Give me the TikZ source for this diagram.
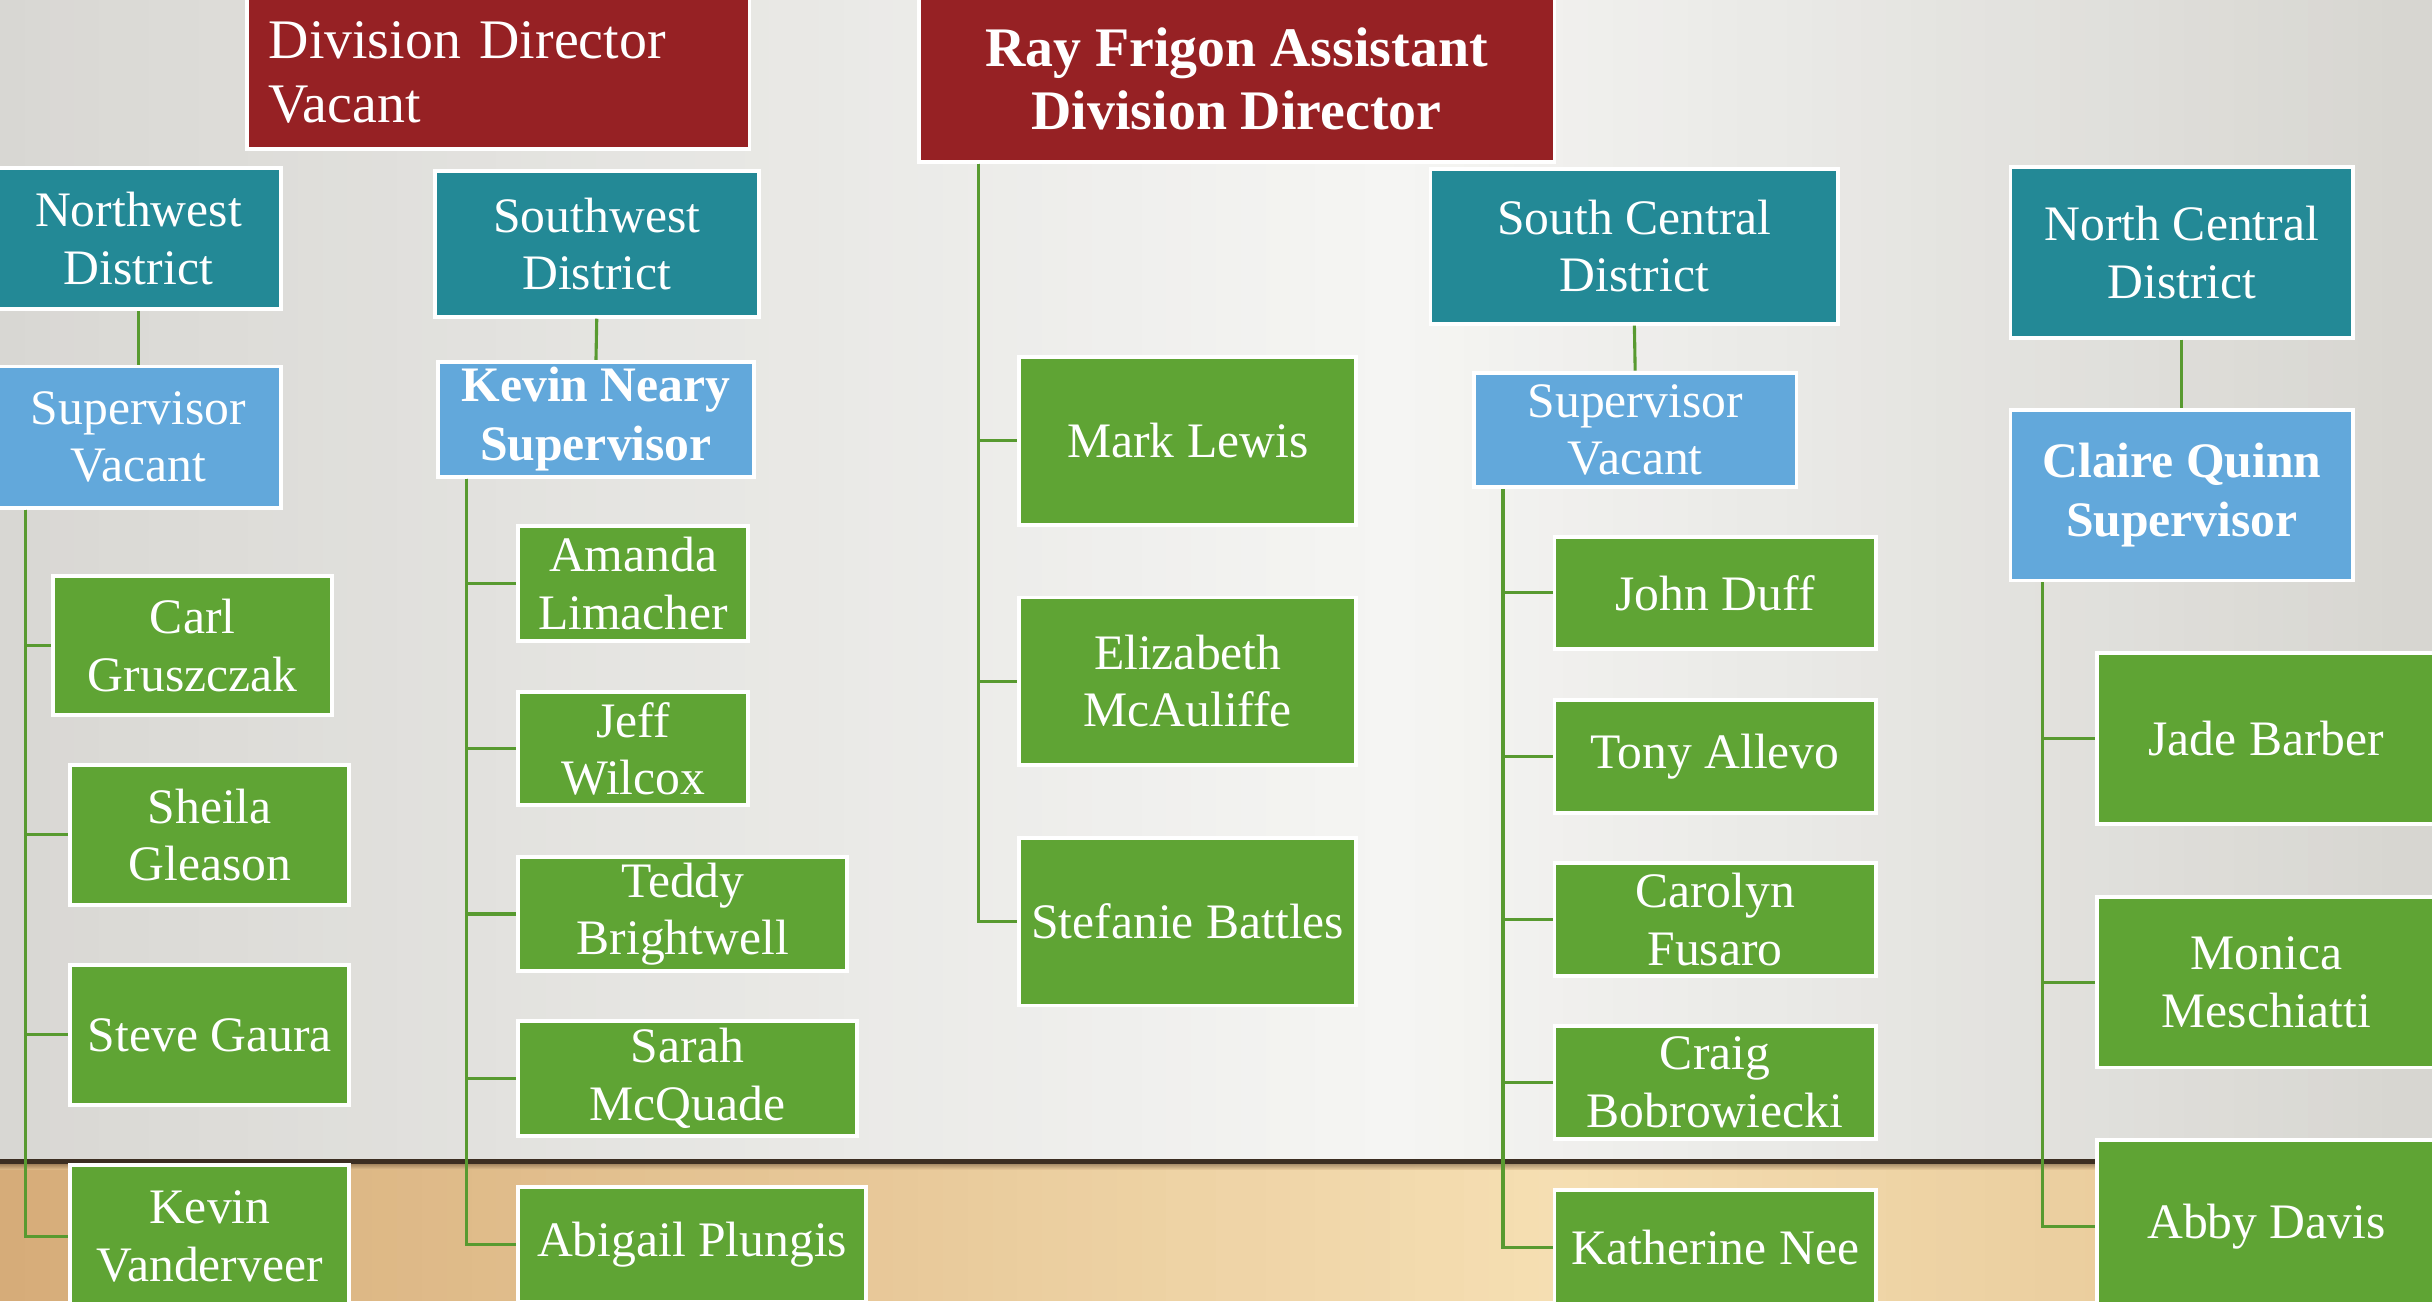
\documentclass[tikz,border=0pt]{standalone}
\usepackage{fontspec}
\setmainfont{Liberation Serif}
\usetikzlibrary{calc}
\definecolor{cred}{RGB}{150,33,36}
\definecolor{cteal}{RGB}{35,137,150}
\definecolor{cblue}{RGB}{98,168,219}
\definecolor{cgreen}{RGB}{95,164,52}
\definecolor{cline}{RGB}{88,154,48}
\definecolor{wallL}{RGB}{216,215,211}
\definecolor{wallM}{RGB}{245,245,243}
\definecolor{wallR}{RGB}{214,213,208}
\definecolor{floorL}{RGB}{214,172,120}
\definecolor{floorM}{RGB}{245,222,178}
\definecolor{floorR}{RGB}{228,196,146}
\definecolor{edge}{RGB}{60,46,34}
\newcommand\bigfontx{\fontsize{36}{41}\selectfont}
\newcommand\cardfont{\fontsize{32}{37}\selectfont}
\newcommand\cardbold{\fontsize{32}{38}\selectfont\bfseries}
\tikzset{
  card/.style={draw=white, line width=2.5pt, text=white, inner sep=0pt, align=center, anchor=north west},
  redbox/.style={card, fill=cred, font=\bigfontx},
  redbold/.style={card, fill=cred, font=\bigfontx\bfseries},
  dist/.style={card, fill=cteal, font=\cardfont},
  sup/.style={card, fill=cblue, font=\cardfont},
  supb/.style={card, fill=cblue, font=\cardbold},
  staff/.style={card, fill=cgreen, font=\cardfont},
  link/.style={draw=cline, line width=2pt},
}
% name, style, x, y, w, h, text
\newcommand\bx[7]{\node[#2, minimum width=#5pt, minimum height=#6pt] (#1) at (#3,#4) {#7};}
\begin{document}
\begin{tikzpicture}[x=1pt, y=-1pt]
\useasboundingbox (0,0) rectangle (1568,839);
% background: wall and floor in vertical strips
\foreach \i in {0,...,97}{
  \pgfmathsetmacro\xa{16*\i}
  \pgfmathsetmacro\xb{16*\i+17}
  \pgfmathsetmacro\xc{16*\i+8}
  \ifdim\xc pt<900pt
    \pgfmathsetmacro\pw{int(100*((900-\xc)/900))}
    \colorlet{wc}{wallL!\pw!wallM}
  \else
    \pgfmathsetmacro\pw{int(100*((\xc-900)/668))}
    \colorlet{wc}{wallR!\pw!wallM}
  \fi
  \ifdim\xc pt<1000pt
    \pgfmathsetmacro\pf{int(100*((1000-\xc)/1000))}
    \colorlet{fc}{floorL!\pf!floorM}
  \else
    \pgfmathsetmacro\pf{int(100*((\xc-1000)/568))}
    \colorlet{fc}{floorR!\pf!floorM}
  \fi
  \fill[wc] (\xa,0) rectangle (\xb,750);
  \fill[fc] (\xa,750) rectangle (\xb,839);
}
\fill[edge] (0,747.5) rectangle (1568,750.5);
\shade[top color=edge!55!floorL, bottom color=floorM!50!floorL, opacity=0.6] (0,750.5) rectangle (1568,754);

% top level
\bx{dd}{redbox, align=left, text width=296pt, inner xsep=14pt}{158}{-4}{324}{99}{Division Director\\Vacant}
\bx{ray}{redbold}{591}{-4}{410}{107}{Ray Frigon Assistant\\Division Director}

% districts
\bx{nwd}{dist}{-4}{107}{184}{91}{Northwest\\District}
\bx{nws}{sup}{-4}{235}{184}{91}{Supervisor\\Vacant}
\bx{swd}{dist}{279}{109}{209}{94}{Southwest\\District}
\bx{kn}{supb}{281}{232}{204}{74}{Kevin Neary\\Supervisor}
\bx{scd}{dist}{921}{107.5}{263}{100}{South Central\\District}
\bx{scs}{sup}{949}{239}{208}{74}{Supervisor\\Vacant}
\bx{ncd}{dist}{1295}{106.5}{221}{110}{North Central\\District}
\bx{cq}{supb}{1295}{263}{221}{110}{Claire Quinn\\Supervisor}

% northwest staff
\bx{carl}{staff}{33}{370}{180}{90}{Carl\\Gruszczak}
\bx{sheila}{staff}{44}{492}{180}{90}{Sheila\\Gleason}
\bx{steve}{staff}{44}{621}{180}{90}{Steve Gaura}
\bx{kevinv}{staff}{44}{750}{180}{92}{Kevin\\Vanderveer}

% southwest staff
\bx{amanda}{staff}{333}{338}{148}{74}{Amanda\\Limacher}
\bx{jeff}{staff}{333}{445}{148}{73}{Jeff\\Wilcox}
\bx{teddy}{staff}{333}{551}{212}{74}{Teddy\\Brightwell}
\bx{sarah}{staff}{333}{657}{218}{74}{Sarah\\McQuade}
\bx{abigail}{staff}{333}{764}{224}{74}{Abigail Plungis}

% assistant director staff
\bx{mark}{staff}{656}{229}{217}{108}{Mark Lewis}
\bx{eliz}{staff}{656}{384}{217}{108}{Elizabeth\\McAuliffe}
\bx{stef}{staff}{656}{539}{217}{108}{Stefanie Battles}

% south central staff
\bx{john}{staff}{1001}{345}{207}{72}{John Duff}
\bx{tony}{staff}{1001}{450}{207}{73}{Tony Allevo}
\bx{carolyn}{staff}{1001}{555}{207}{73}{Carolyn\\Fusaro}
\bx{craig}{staff}{1001}{660}{207}{73}{Craig\\Bobrowiecki}
\bx{kath}{staff}{1001}{766}{207}{74}{Katherine Nee}

% north central staff
\bx{jade}{staff}{1351}{420}{218}{110}{Jade Barber}
\bx{monica}{staff}{1351}{577}{218}{110}{Monica\\Meschiatti}
\bx{abby}{staff}{1351}{734}{218}{111}{Abby Davis}

% connectors district -> supervisor
\draw[link] (nwd.south) -- (nws.north);
\draw[link] (swd.south) -- (kn.north);
\draw[link] (scd.south) -- (scs.north);
\draw[link] (ncd.south) -- (cq.north);

% trunks
\coordinate (nwt) at ([xshift=20.5pt]nws.south west);
\coordinate (swt) at ([xshift=20pt]kn.south west);
\coordinate (rayt) at ([xshift=40pt]ray.south west);
\coordinate (sct) at ([xshift=20pt]scs.south west);
\coordinate (nct) at ([xshift=22pt]cq.south west);

\foreach \c in {carl,sheila,steve,kevinv} \draw[link] (nwt) |- (\c.west);
\foreach \c in {amanda,jeff,teddy,sarah,abigail} \draw[link] (swt) |- (\c.west);
\foreach \c in {mark,eliz,stef} \draw[link] (rayt) |- (\c.west);
\foreach \c in {john,tony,carolyn,craig,kath} \draw[link] (sct) |- (\c.west);
\foreach \c in {jade,monica,abby} \draw[link] (nct) |- (\c.west);
\end{tikzpicture}
\end{document}
